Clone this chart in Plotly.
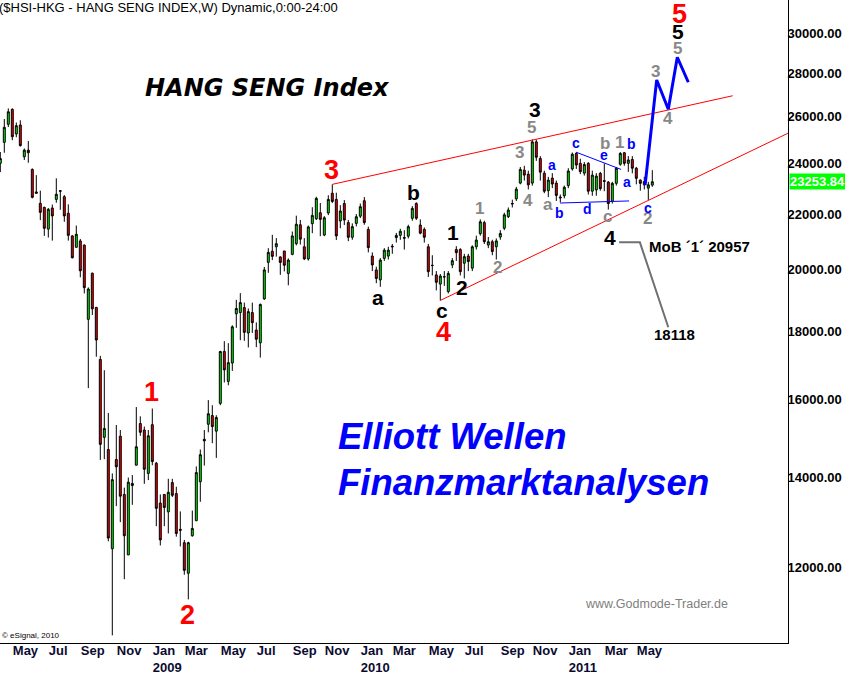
import numpy as np
import pandas as pd
import plotly.graph_objects as go

# ---------------- data (weekly Hang Seng candles) ----------------
start = pd.Timestamp("2008-04-18")

opens = [24000, 24880, 25660, 26330, 25240, 25630, 24270, 24550, 23750, 22850,
         22410, 22255, 21440, 22230, 22560, 22900, 22665, 22030, 21190, 20780,
         21010, 20860, 18365, 19875, 18745, 17145, 15000, 14690, 12390, 14440,
         15030, 13600, 12260, 13860, 14300, 15360, 15190, 14100, 15330, 14350,
         13400, 13600, 13200, 13880, 13620, 12810, 12520, 11880, 12670, 13000,
         13900, 14950, 15340, 15570, 15160, 15900, 17380, 16510, 17040, 18540,
         18580, 18740, 17940, 18580, 18030, 17640, 19020, 20250, 20640, 20800,
         20440, 20650, 19870, 20530, 20910, 21600, 20800, 20370, 21640, 21820,
         22050, 21220, 22040, 22800, 22560, 21740, 22400, 21680, 21140, 21650,
         21920, 22510, 21430, 20470, 19990, 19650, 20390, 20470, 20820, 21130,
         21210, 21130, 21180, 21840, 22400, 21590, 21430, 20800, 20150, 19820,
         19510, 19760, 19260, 20160, 20700, 20700, 20220, 20470, 20050, 20800,
         21270, 21680, 20860, 20980, 20800, 21150, 21470, 21900, 22380, 22580,
         23200, 23720, 23560, 23200, 24900, 24200, 23600, 22900, 23400, 23200,
         22650, 22700, 23100, 23770, 24410, 24000, 23600, 24000, 22880, 22930,
         23590, 23300, 23240, 22490, 23190, 23960, 24440, 24000, 24160, 23800,
         23320, 23130, 23000, 23120]
highs = [24470, 25895, 26370, 26370, 25740, 25840, 24620, 24935, 23790, 23520,
         22900, 22280, 22230, 22360, 23390, 22920, 22730, 22370, 21220, 21570,
         21080, 20880, 19400, 19900, 18760, 17250, 16830, 15640, 14100, 15320,
         15190, 13760, 14000, 14060, 15800, 15550, 15280, 15190, 15760, 14380,
         13600, 13600, 13970, 13970, 13780, 13210, 12580, 12540, 13230, 14270,
         14690, 15190, 15990, 15850, 15580, 17400, 17690, 17630, 18180, 18990,
         19210, 18900, 18710, 18900, 18270, 18870, 20090, 20750, 21230, 21110,
         20460, 20650, 20390, 21350, 21940, 21780, 21110, 21570, 22260, 22660,
         22420, 21920, 22720, 23150, 22820, 22340, 22535, 21780, 21650, 22000,
         22400, 22650, 21530, 20600, 20100, 20400, 20750, 20800, 20900, 21300,
         21450, 21400, 21600, 22300, 22450, 21800, 21500, 20900, 20500, 19950,
         19850, 19950, 19950, 20400, 20820, 20750, 20550, 20550, 20850, 21200,
         21800, 21750, 21150, 21050, 21100, 21400, 22050, 22250, 22550, 23050,
         23850, 23900, 23700, 25000, 25000, 24300, 23700, 23450, 23600, 23300,
         22750, 23100, 23800, 24450, 24468, 24190, 24050, 24050, 23700, 23600,
         23650, 24000, 23280, 23250, 23850, 24470, 24470, 24300, 24300, 23850,
         23350, 23450, 23250, 23720]
lows = [23640, 24440, 25540, 24970, 25100, 24700, 24140, 24025, 22600, 22780,
        21770, 21190, 21130, 21020, 22430, 22160, 21710, 21020, 20390, 20780,
        19740, 19200, 16320, 18500, 17225, 14430, 14450, 12550, 10680, 13330,
        12970, 11760, 12260, 13360, 14300, 15040, 13850, 13940, 14300, 12880,
        12460, 12880, 12720, 13540, 12650, 12440, 11850, 11360, 12650, 13000,
        13430, 14290, 15130, 14850, 14480, 15850, 16480, 16400, 16810, 18100,
        17720, 17700, 17500, 17940, 17510, 17200, 18990, 19890, 20330, 20450,
        19820, 19940, 19470, 20500, 20850, 20880, 20330, 20310, 21290, 21780,
        21180, 21180, 21960, 22420, 21040, 21470, 21590, 21000, 21050, 21540,
        21850, 21600, 20600, 19950, 19540, 19420, 20300, 20350, 20550, 20950,
        21050, 20700, 21100, 21750, 21780, 21250, 20950, 19750, 19800, 19300,
        18970, 19450, 19200, 20050, 20300, 19800, 19700, 19950, 19950, 20700,
        21200, 20900, 20750, 20500, 20350, 21050, 21400, 21850, 22250, 22500,
        23150, 23300, 22950, 23100, 24100, 23300, 22800, 22650, 23000, 22500,
        22450, 22600, 23000, 23700, 23770, 23560, 23500, 22750, 22700, 22700,
        22900, 22880, 22170, 22400, 23100, 23900, 23900, 23650, 23590, 23150,
        22900, 22950, 22540, 23050]
closes = [24200, 25530, 26220, 25120, 25600, 24740, 24550, 24440, 22640, 22800,
          22065, 21470, 22180, 21930, 22760, 22880, 21930, 21210, 20410, 21250,
          19960, 19390, 19345, 18700, 17725, 14820, 15230, 12620, 13950, 14260,
          13560, 12670, 13890, 13810, 14760, 15130, 14200, 15040, 14390, 13280,
          12580, 13300, 13650, 13580, 12720, 12790, 11940, 12520, 12830, 14120,
          14560, 14910, 15620, 15280, 15520, 17380, 16840, 17050, 18130, 18710,
          18900, 17960, 18610, 18260, 17750, 18840, 19990, 20600, 20460, 20910,
          20250, 20150, 20330, 21190, 21620, 21070, 20370, 21520, 21950, 22600,
          21800, 21860, 22560, 22480, 21190, 22115, 21776, 21140, 21530, 21900,
          22280, 21680, 20770, 20160, 19700, 20330, 20680, 20680, 20800, 21210,
          21360, 21110, 21530, 22215, 21840, 21290, 21140, 19930, 20140, 19570,
          19780, 19750, 19870, 20310, 20590, 19930, 20450, 20280, 20800, 21040,
          21710, 20980, 20980, 20630, 21010, 21280, 21970, 22150, 22400, 22960,
          23750, 23520, 23130, 24900, 24250, 23637, 22877, 23320, 23163, 22715,
          22622, 23035, 23686, 24380, 23930, 23660, 23950, 22880, 23520, 23480,
          22980, 23270, 22400, 23190, 23800, 24410, 24000, 24140, 23800, 23390,
          23190, 23260, 23130, 23254]
last_price = 23253.84

# x-axis month ticks (first weekly bar of the month) and their labels
tick_dates = ["2008-05-09", "2008-07-11", "2008-09-05", "2008-11-07",
              "2009-01-09", "2009-03-06", "2009-05-08", "2009-07-10",
              "2009-09-11", "2009-11-06", "2010-01-08", "2010-03-05",
              "2010-05-07", "2010-07-09", "2010-09-10", "2010-11-05",
              "2011-01-07", "2011-03-11", "2011-05-06"]
tick_labels = ["May", "Jul", "Sep", "Nov", "Jan<br>2009", "Mar", "May", "Jul",
               "Sep", "Nov", "Jan<br>2010", "Mar", "May", "Jul", "Sep", "Nov",
               "Jan<br>2011", "Mar", "May"]
y_ticks = [12000, 14000, 16000, 18000, 20000, 22000, 24000, 26000, 28000, 30000]

# Elliott wave labels: (text, week index from start, price level)
red_labels = [("1", 37.7, 16210), ("2", 46.7, 11060), ("3", 82.7, 23730),
              ("4", 110.7, 17970), ("5", 169.7, 31000)]
black_labels = [("5", 169.4, 30110), ("3", 133.7, 26300), ("b", 103.4, 22840),
                ("a", 94.4, 19080), ("c", 110.4, 18660), ("1", 113.2, 21330),
                ("2", 115.4, 19410), ("4", 152.3, 21150)]
grey_labels = [("5", 169.4, 29250), ("3", 163.9, 28115), ("4", 166.9, 25940),
               ("5", 132.9, 25500), ("3", 129.9, 24430), ("4", 131.9, 22535),
               ("1", 119.9, 22200), ("2", 124.2, 20090), ("a", 136.9, 22380),
               ("b", 151.2, 24850), ("1", 154.9, 24890), ("c", 151.9, 21890),
               ("2", 161.9, 21850)]
blue_labels = [("a", 137.9, 23930), ("b", 139.9, 22040), ("c", 143.9, 24850),
               ("d", 146.9, 22200), ("e", 150.9, 24340), ("b", 157.9, 24810),
               ("a", 156.7, 23240), ("c", 161.9, 22240)]

# trend / pattern lines: lists of (week index, price)
upper_channel = [(83.0, 23150), (183.1, 26950)]
lower_channel = [(110.0, 18970), (196.9, 25270)]
triangle_top = [(144.0, 24460), (155.2, 23750)]
triangle_bottom = [(139.9, 22420), (157.2, 22500)]
forecast_path = [(161.2, 23120), (164.1, 27690), (167.0, 26330),
                 (169.25, 28790), (172.0, 27580)]
mob_path = [(154.7, 20957), (159.9, 20957), (167.0, 18118)]

# ---------------- figure ----------------
def wk(w):
    return start + pd.Timedelta(days=7 * w)

dates = [wk(i) for i in range(len(opens))]
FONT = "Liberation Sans, Arial, sans-serif"

fig = go.Figure()
fig.add_trace(go.Candlestick(
    x=dates, open=opens, high=highs, low=lows, close=closes,
    increasing=dict(line=dict(color="black", width=1), fillcolor="#00EE00"),
    decreasing=dict(line=dict(color="black", width=1), fillcolor="#EE0000"),
    whiskerwidth=0, showlegend=False, hoverinfo="skip"))

def add_line(pts, color, width):
    fig.add_trace(go.Scatter(x=[wk(w) for w, _ in pts], y=[p for _, p in pts],
                             mode="lines", line=dict(color=color, width=width),
                             showlegend=False, hoverinfo="skip"))

add_line(upper_channel, "#FF0000", 1)
add_line(lower_channel, "#FF0000", 1)
add_line(triangle_top, "#0000FF", 1)
add_line(triangle_bottom, "#0000FF", 1)
add_line(forecast_path, "#0000FF", 3)
add_line(mob_path, "#707070", 2)

annotations = []
def add_labels(items, color, size):
    for txt, w, p in items:
        annotations.append(dict(x=wk(w), y=np.log10(p), xref="x", yref="y",
                                text="<b>%s</b>" % txt, showarrow=False,
                                font=dict(family=FONT, size=size, color=color),
                                xanchor="center", yanchor="middle"))

add_labels(red_labels, "#FF0000", 27)
add_labels(black_labels, "#000000", 21)
add_labels(grey_labels, "#888888", 17)
add_labels(blue_labels, "#0000FF", 14)

PW, PH = 788.0, 643.0
def paper(px, py, text, size, color, anchor="left", family=FONT, xs=0):
    annotations.append(dict(x=px / PW, y=1 - py / PH, xref="paper", yref="paper",
                            text=text, showarrow=False, xanchor=anchor,
                            yanchor="middle", xshift=xs,
                            font=dict(family=family, size=size, color=color)))

paper(0, 8, "($HSI-HKG - HANG SENG INDEX,W) Dynamic,0:00-24:00", 13, "#000000", xs=-3)
paper(267, 88, "<b><i>HANG SENG Index</i></b>", 24, "#000000", "center",
      "DejaVu Sans, sans-serif")
paper(338, 436, "<b><i>Elliott Wellen</i></b>", 36.5, "#0000FF", xs=-2)
paper(338, 482, "<b><i>Finanzmarktanalysen</i></b>", 36.5, "#0000FF", xs=-2)
paper(656, 604, "www.Godmode-Trader.de", 12.5, "#808080", "center")
paper(2, 635, "© eSignal, 2010", 8, "#000000", xs=-2)
paper(649, 247, "<b>MoB ´1´ 20957</b>", 15, "#000000", xs=-2)
paper(674, 334, "<b>18118</b>", 15, "#000000", "center")

annotations.append(dict(x=1, y=np.log10(last_price), xref="paper", yref="y",
                        text="<b>%.2f</b>" % last_price, showarrow=False,
                        xanchor="left", yanchor="middle", xshift=1,
                        bgcolor="#00FF00", borderpad=0,
                        font=dict(family=FONT, size=13, color="#FFFFFF")))

x_range = [wk(-0.075), wk(196.925)]
fig.update_layout(
    width=845, height=675, autosize=False,
    margin=dict(l=0, r=57, t=0, b=32, autoexpand=False),
    paper_bgcolor="white", plot_bgcolor="white",
    showlegend=False, annotations=annotations,
    xaxis=dict(type="date", range=x_range, tickvals=tick_dates,
               ticktext=tick_labels, showgrid=False, zeroline=False,
               showline=True, linecolor="black", linewidth=1, ticks="",
               tickangle=0, automargin=False, ticklabelstandoff=-5,
               ticklabelposition="outside right",
               tickfont=dict(family=FONT, size=13, color="#0b0b30", weight="bold"),
               rangeslider=dict(visible=False), fixedrange=True),
    yaxis=dict(type="log", side="right",
               range=[np.log10(10541), np.log10(31760)],
               tickvals=y_ticks, ticktext=["%.2f" % v for v in y_ticks],
               showgrid=False, zeroline=False, showline=True,
               linecolor="black", linewidth=1, ticks="", automargin=False,
               ticklabelstandoff=-4,
               tickfont=dict(family=FONT, size=13, color="#000000", weight="bold"),
               fixedrange=True),
)

fig.write_html("out.html", config={"displayModeBar": False},
               post_script="document.body.style.margin='0px';"
                           "document.body.style.overflow='hidden';")
